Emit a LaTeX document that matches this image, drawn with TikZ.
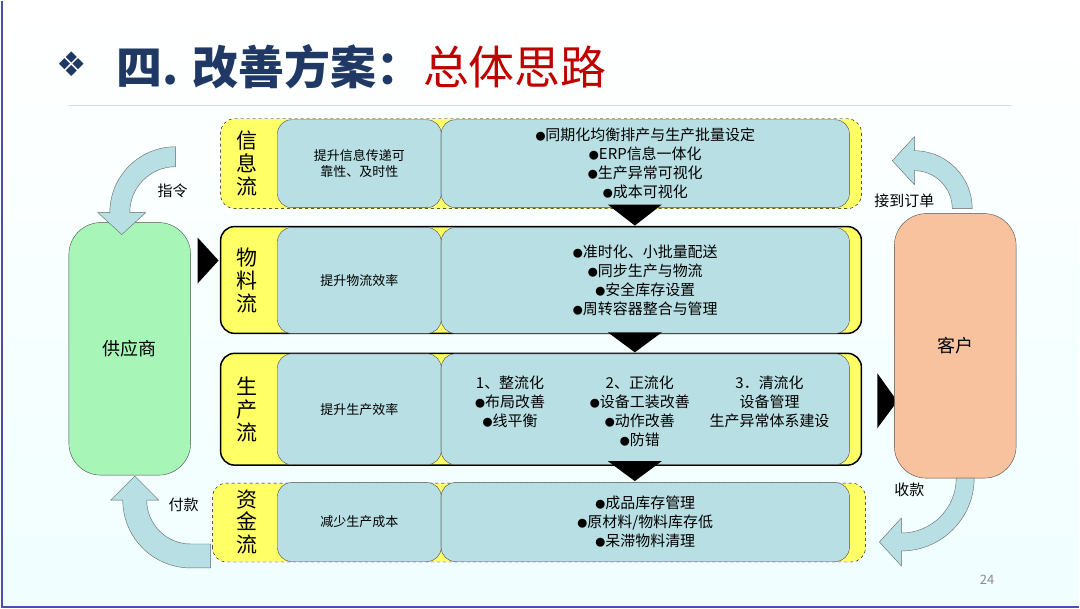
\documentclass[tikz,border=0pt]{standalone}
\usepackage{fontspec}
\setmainfont{Noto Sans CJK SC}
\newfontfamily\symfont{DejaVu Sans}
\usetikzlibrary{arrows.meta}

\definecolor{navy}{HTML}{1F3864}
\definecolor{titlered}{HTML}{C00000}
\definecolor{cellblue}{HTML}{B8DFE3}
\definecolor{bandyellow}{HTML}{FFFF66}
\definecolor{suppgreen}{HTML}{A8F5B8}
\definecolor{custorange}{HTML}{F8C29E}
\newcommand{\bul}{{\fontsize{10}{10}\selectfont●}}

\begin{document}
\begin{tikzpicture}[
             x                = 1pt,
             y                = 1pt,
             band/.style      = {draw=black, fill=bandyellow, rounded corners=14pt},
             cell/.style      = {draw=black!70, fill=cellblue, rounded corners=14pt},
             rowlabel/.style  = {font=\fontsize{21}{23}\selectfont, align=center},
             aim/.style       = {font=\fontsize{13}{16}\selectfont, align=center},
             item/.style      = {font=\fontsize{15}{19}\selectfont, align=center},
             party/.style     = {draw=black!70, rounded corners=32pt, font=\fontsize{18}{20}\selectfont},
             bigarrow/.style  = {draw=black!60, fill=cellblue},
             flowtip/.style   = {fill=black}]
             % background and frame
             \shade[top color=white, bottom color=blue!4!cyan!6] (0,0) rectangle (1080,608);
             \draw[blue!40!gray, line width=2pt] (1,0) -- (1,608);
             \draw[blue!40!gray, line width=2pt] (0,1) -- (1080,1);
             \useasboundingbox (0,0) rectangle (1080,608);
             % title
             \node[anchor=west, text=navy, font=\symfont\fontsize{34}{36}\selectfont] (mark) at (52,545) {❖};
             \node[anchor=west, text=navy, font=\bfseries\fontsize{46}{48}\selectfont] (head) at (112,542) {四. 改善方案：};
             \node[anchor=west, text=titlered, font=\fontsize{46}{48}\selectfont] (topic) at ([xshift=-6]head.east) {总体思路};
             \draw[black!15, line width=1pt] (68,503) -- (1012,503);
             % bands
             \draw[band, dashed] (220,400) rectangle (862,490);
             \draw[band, line width=1.5pt] (220,275) rectangle (862,382);
             \draw[band, line width=1.5pt] (220,143) rectangle (862,255);
             \draw[band, dashed] (212,46) rectangle (866,125);
             % row labels
             \node[rowlabel] (infolbl) at (246,445) {信\\息\\流};
             \node[rowlabel] (matlbl) at (246,328) {物\\料\\流};
             \node[rowlabel] (prodlbl) at (246,199) {生\\产\\流};
             \node[rowlabel] (caplbl) at (246,86) {资\\金\\流};
             % aims
             \node[cell, minimum width=164, minimum height=88] (infoaim) at (359,445) {};
             \node[aim] at (infoaim) {提升信息传递可\\靠性、及时性};
             \node[cell, minimum width=164, minimum height=106] (mataim) at (359,328) {};
             \node[aim] at (mataim) {提升物流效率};
             \node[cell, minimum width=164, minimum height=111] (prodaim) at (359,199) {};
             \node[aim] at (prodaim) {提升生产效率};
             \node[cell, minimum width=164, minimum height=79] (capaim) at (359,86) {};
             \node[aim] at (capaim) {减少生产成本};
             % measures
             \node[cell, minimum width=409, minimum height=88] (infoact) at (645.5,445) {};
             \node[item] at (infoact) {\bul{}同期化均衡排产与生产批量设定\\\bul{}ERP信息一体化\\\bul{}生产异常可视化\\\bul{}成本可视化};
             \node[cell, minimum width=409, minimum height=106] (matact) at (645.5,328) {};
             \node[item] at (matact) {\bul{}准时化、小批量配送\\\bul{}同步生产与物流\\\bul{}安全库存设置\\\bul{}周转容器整合与管理};
             \node[cell, minimum width=409, minimum height=111] (prodact) at (645.5,199) {};
             \node[item, anchor=north] (step1) at (510,236) {1、整流化\\\bul{}布局改善\\\bul{}线平衡};
             \node[item, anchor=north] (step2) at (640,236) {2、正流化\\\bul{}设备工装改善\\\bul{}动作改善\\\bul{}防错};
             \node[item, anchor=north] (step3) at (770,236) {3．清流化\\设备管理\\生产异常体系建设};
             \node[cell, minimum width=409, minimum height=79] (capact) at (645.5,86) {};
             \node[item] at (capact) {\bul{}成品库存管理\\\bul{}原材料/物料库存低\\\bul{}呆滞物料清理};
             % flow triangles
             \fill[flowtip] (608,404) -- (662,404) -- (635,383) -- cycle;
             \fill[flowtip] (608,276) -- (662,276) -- (635,256) -- cycle;
             \fill[flowtip] (608,147) -- (662,147) -- (635,127) -- cycle;
             \fill[flowtip] (197,371) -- (218,348) -- (197,325) -- cycle;
             \fill[flowtip] (878,235) -- (898,207) -- (878,180) -- cycle;
             % supplier and customer
             \node[party, fill=suppgreen, minimum width=122, minimum height=253] (supplier) at (129,259.5) {供应商};
             \node[party, fill=custorange, minimum width=122, minimum height=265] (customer) at (956,262.5) {客户};
             % curved arrows
             \filldraw[bigarrow] (175,462) arc[start angle=90, end angle=180, radius=66]
                   -- (97,396) -- (121,374) -- (145,396) -- (129,396)
                   arc[start angle=180, end angle=90, radius=46] -- cycle;
             \node[font=\fontsize{15}{17}\selectfont] (order) at (172,418) {指令};
             \filldraw[bigarrow] (953,400) -- (973,400) arc[start angle=0, end angle=90, radius=58]
                   -- (915,472) -- (893,448) -- (915,424) -- (915,438)
                   arc[start angle=90, end angle=0, radius=38] -- cycle;
             \node[font=\fontsize{15}{17}\selectfont] (getorder) at (905,408) {接到订单};
             \filldraw[bigarrow] (210,64) -- (190,64) arc[start angle=270, end angle=180, radius=44]
                   -- (158,108) -- (134,132) -- (110,108) -- (122,108)
                   arc[start angle=180, end angle=270, radius=68] -- (210,40) -- cycle;
             \node[font=\fontsize{15}{17}\selectfont] (pay) at (183,103) {付款};
             \filldraw[bigarrow] (957,130) -- (975,130) arc[start angle=0, end angle=-90, radius=73]
                   -- (902,42) -- (880,66) -- (902,90) -- (902,75)
                   arc[start angle=-90, end angle=0, radius=55] -- cycle;
             \node[font=\fontsize{15}{17}\selectfont] (receive) at (910,118) {收款};
             % page number
             \node[text=black!45, font=\fontsize{13}{15}\selectfont] (pageno) at (988,28) {24};
    \end{tikzpicture}
\end{document}
